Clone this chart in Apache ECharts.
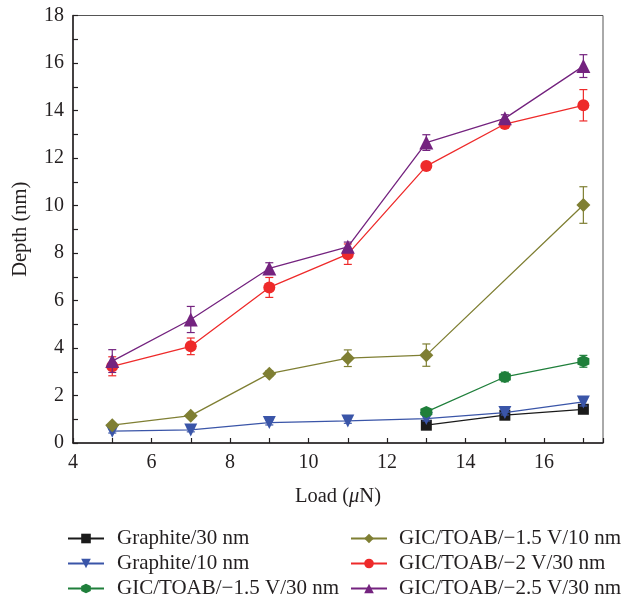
<!DOCTYPE html>
<html>
<head>
<meta charset="utf-8">
<script src="https://cdn.jsdelivr.net/npm/echarts@6/dist/echarts.min.js"></script>
<style>
html, body { margin: 0; padding: 0; background: #fff; }
#main { width: 637px; height: 604px; }
</style>
</head>
<body>
<div id="main"></div>
<script>
// load (uN) for each series
var xGraphite30 = [13, 15, 17];
var xGraphite10 = [5, 7, 9, 11, 13, 15, 17];
var xGic15_30 = [13, 15, 17];
var xGic15_10 = [5, 7, 9, 11, 13, 17];
var xGic2_30 = [5, 7, 9, 11, 13, 15, 17];
var xGic25_30 = [5, 7, 9, 11, 13, 15, 17];

// depth (nm)
var yGraphite30 = [0.75, 1.17, 1.42];
var yGraphite10 = [0.5, 0.55, 0.86, 0.93, 1.03, 1.28, 1.73];
var yGic15_30 = [1.31, 2.78, 3.44];
var yGic15_10 = [0.75, 1.15, 2.92, 3.57, 3.7, 10.02];
var yGic2_30 = [3.23, 4.07, 6.55, 7.95, 11.66, 13.43, 14.22];
var yGic25_30 = [3.45, 5.2, 7.35, 8.26, 12.65, 13.67, 15.87];

// error (+/-)
var eGraphite30 = [0.1, 0.08, 0.1];
var eGraphite10 = [0.08, 0.08, 0.1, 0.1, 0.1, 0.1, 0.17];
var eGic15_30 = [0.1, 0.2, 0.25];
var eGic15_10 = [0.05, 0.08, 0.12, 0.35, 0.47, 0.77];
var eGic2_30 = [0.4, 0.35, 0.42, 0.43, 0.1, 0.12, 0.66];
var eGic25_30 = [0.48, 0.55, 0.24, 0.2, 0.33, 0.15, 0.48];

var names = ['Graphite/30 nm', 'Graphite/10 nm', 'GIC/TOAB/\u22121.5 V/30 nm',
  'GIC/TOAB/\u22121.5 V/10 nm', 'GIC/TOAB/\u22122 V/30 nm', 'GIC/TOAB/\u22122.5 V/30 nm'];
var colors = ['#1a1a1a', '#3a55a8', '#1f7f3b', '#7f7f33', '#ee2a2a', '#74237f'];

var hexagon = 'path://M5,0 L9.5,2.6 L9.5,8.4 L5,11 L0.5,8.4 L0.5,2.6 Z';
var symbols = ['rect', 'triangle', hexagon, 'diamond', 'circle', 'triangle'];
var symSizes = [11, 13, 12, 14, 12, 14];
var rotates = [0, 180, 0, 0, 0, 0];

var xs = [xGraphite30, xGraphite10, xGic15_30, xGic15_10, xGic2_30, xGic25_30];
var ys = [yGraphite30, yGraphite10, yGic15_30, yGic15_10, yGic2_30, yGic25_30];
var es = [eGraphite30, eGraphite10, eGic15_30, eGic15_10, eGic2_30, eGic25_30];

var serif = 'Liberation Serif';
var txt = '#231f20';

function errRender(params, api) {
	var x = api.value(0);
	var top = api.coord([x, api.value(2)]);
	var bot = api.coord([x, api.value(1)]);
	var w = 4;
	var st = { stroke: api.visual('color'), lineWidth: 1.2 };
	return {
		type: 'group',
		children: [
			{ type: 'line', shape: { x1: top[0], y1: top[1], x2: bot[0], y2: bot[1] }, style: st },
			{ type: 'line', shape: { x1: top[0] - w, y1: top[1], x2: top[0] + w, y2: top[1] }, style: st },
			{ type: 'line', shape: { x1: bot[0] - w, y1: bot[1], x2: bot[0] + w, y2: bot[1] }, style: st }
		]
	};
}

var series = [];
for (var i = 0; i < names.length; i++) {
	var pts = [], errs = [];
	for (var j = 0; j < xs[i].length; j++) {
		pts.push([xs[i][j], ys[i][j]]);
		errs.push([xs[i][j], ys[i][j] - es[i][j], ys[i][j] + es[i][j]]);
	}
	series.push({
		name: names[i] + ' err',
		type: 'custom',
		renderItem: errRender,
		itemStyle: { color: colors[i] },
		data: errs,
		z: 2 + i,
		silent: true
	});
	series.push({
		name: names[i],
		type: 'line',
		data: pts,
		symbol: symbols[i],
		symbolSize: symSizes[i],
		symbolRotate: rotates[i],
		showAllSymbol: true,
		color: colors[i],
		lineStyle: { color: colors[i], width: 1.3 },
		itemStyle: { color: colors[i] },
		z: 2 + i
	});
}

// one legend per entry, two columns of three
var legends = [];
for (var k = 0; k < names.length; k++) {
	var col = k < 3 ? 0 : 1;
	var row = k % 3;
	legends.push({
		left: col === 0 ? 67 : 350,
		top: 528 + row * 25,
		padding: 0,
		itemWidth: 36, itemHeight: 12,
		data: [names[k]],
		textStyle: {
			fontFamily: serif, fontSize: 21, color: txt, lineHeight: 21,
			padding: [0, 0, 0, col === 0 ? 8 : 7]
		}
	});
}

var myChart = echarts.init(document.getElementById('main'));
var option = {
	animation: false,
	grid: {
		left: 73, top: 15.5, right: 34, bottom: 161,
		show: true, borderColor: '#555', borderWidth: 1
	},
	legend: legends,
	xAxis: {
		type: 'value', min: 4, max: 17.5, interval: 1,
		name: 'Load ({i|\u03bc}N)',
		nameLocation: 'middle', nameGap: 43,
		nameTextStyle: {
			fontFamily: serif, fontSize: 20.5, color: txt,
			rich: { i: { fontFamily: serif, fontSize: 20.5, fontStyle: 'italic', color: txt } }
		},
		axisLine: { lineStyle: { color: txt, width: 1.5 } },
		axisTick: { inside: true, length: 5, lineStyle: { color: txt, width: 1.2 } },
		axisLabel: {
			fontFamily: serif, fontSize: 20, color: txt, margin: 10,
			formatter: function (v) { return (v % 2 === 0 && v <= 16) ? String(v) : ''; }
		},
		splitLine: { show: false }
	},
	yAxis: {
		type: 'value', min: 0, max: 18, interval: 1,
		name: 'Depth (nm)',
		nameLocation: 'middle', nameGap: 42,
		nameTextStyle: { fontFamily: serif, fontSize: 20.5, color: txt },
		axisLine: { lineStyle: { color: txt, width: 1.5 } },
		axisTick: { inside: true, length: 5, lineStyle: { color: txt, width: 1.2 } },
		axisLabel: {
			fontFamily: serif, fontSize: 20, color: txt, margin: 9,
			formatter: function (v) { return v % 2 === 0 ? String(v) : ''; }
		},
		splitLine: { show: false }
	},
	series: series
};
myChart.setOption(option);
</script>
</body>
</html>
